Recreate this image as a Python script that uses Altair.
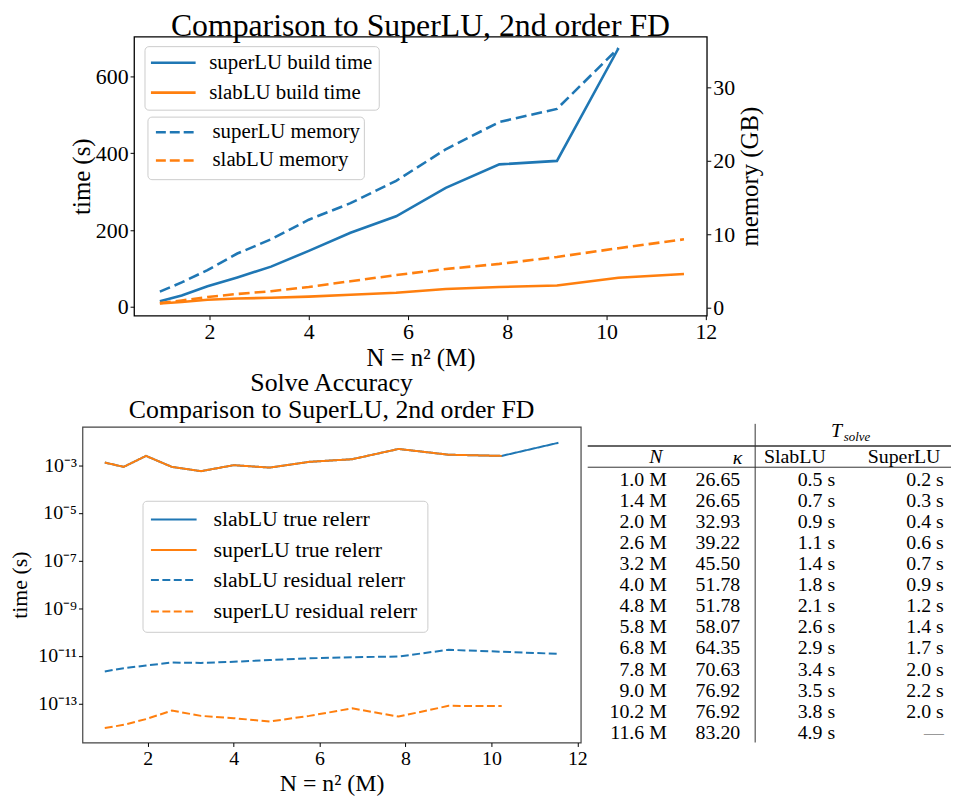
import altair as alt
import pandas as pd

# ---------------- data ----------------
N_M = [1.0, 1.44, 1.96, 2.56, 3.24, 4.0, 4.84, 5.76, 6.76, 7.84, 9.0, 10.24, 11.56]

superlu_build_s = [15, 30, 54, 77, 105, 146, 193, 236, 310, 371, 380, 673]
slablu_build_s = [9, 13, 19, 22, 24, 27, 32, 37, 47, 52, 56, 76, 86]
superlu_mem_gb = [2.23, 3.48, 5.16, 7.41, 9.34, 12.01, 14.26, 17.30, 21.59, 25.30, 27.08, 35.35]
slablu_mem_gb = [0.66, 1.02, 1.50, 1.91, 2.28, 2.86, 3.64, 4.48, 5.31, 6.00, 6.94, 8.14, 9.34]

slablu_true_relerr = [1.29e-3, 8.5e-4, 2.45e-3, 8.5e-4, 5.6e-4, 1.0e-3, 7.9e-4, 1.38e-3,
                      1.78e-3, 4.8e-3, 2.75e-3, 2.45e-3, 8.7e-3]
superlu_true_relerr = [1.29e-3, 8.5e-4, 2.45e-3, 8.5e-4, 5.6e-4, 1.0e-3, 7.9e-4, 1.38e-3,
                       1.78e-3, 4.8e-3, 2.75e-3, 2.45e-3]
slablu_resid_relerr = [2.2e-12, 3.0e-12, 3.9e-12, 5.2e-12, 5.0e-12, 5.6e-12, 6.6e-12, 7.8e-12,
                       8.7e-12, 9.3e-12, 1.78e-11, 1.48e-11, 1.2e-11]
superlu_resid_relerr = [9.3e-15, 1.26e-14, 2.2e-14, 5.0e-14, 3.0e-14, 2.4e-14, 1.74e-14, 3.0e-14,
                        6.2e-14, 2.8e-14, 7.9e-14, 7.8e-14]

top_time_names = ["superLU build time", "slabLU build time"]
top_mem_names = ["superLU memory", "slabLU memory"]
bot_names = ["slabLU true relerr", "superLU true relerr", "slabLU residual relerr",
             "superLU residual relerr"]

top_x_ticks = [2, 4, 6, 8, 10, 12]
top_time_ticks = [0, 200, 400, 600]
top_mem_ticks = [0, 10, 20, 30]
bot_y_ticks = [1e-13, 1e-11, 1e-9, 1e-7, 1e-5, 1e-3]
bot_y_labels = ["10⁻¹³", "10⁻¹¹", "10⁻⁹", "10⁻⁷", "10⁻⁵", "10⁻³"]

table_N = ["1.0 M", "1.4 M", "2.0 M", "2.6 M", "3.2 M", "4.0 M", "4.8 M", "5.8 M", "6.8 M",
           "7.8 M", "9.0 M", "10.2 M", "11.6 M"]
table_kappa = ["26.65", "26.65", "32.93", "39.22", "45.50", "51.78", "51.78", "58.07", "64.35",
               "70.63", "76.92", "76.92", "83.20"]
table_slab = ["0.5 s", "0.7 s", "0.9 s", "1.1 s", "1.4 s", "1.8 s", "2.1 s", "2.6 s", "2.9 s",
              "3.4 s", "3.5 s", "3.8 s", "4.9 s"]
table_super = ["0.2 s", "0.3 s", "0.4 s", "0.6 s", "0.7 s", "0.9 s", "1.2 s", "1.4 s", "1.7 s",
               "2.0 s", "2.2 s", "2.0 s", "—"]

BLUE = "#1f77b4"
ORANGE = "#ff7f0e"
FONT = "Liberation Serif"
one = pd.DataFrame({"a": [0]})


def series_df(x, y, name):
    return pd.DataFrame({"N": x[:len(y)], "v": y, "series": name})


def ax(title, values, lfs, tfs, **extra):
    return alt.Axis(title=title, values=values, labelFontSize=lfs, titleFontSize=tfs,
                    labelFont=FONT, titleFont=FONT, labelColor="black", titleColor="black",
                    tickColor="black", tickSize=4, labelPadding=2, domain=False, grid=False,
                    titleFontWeight="normal", labelFlush=False, **extra)


def manual_legend(box, labels, colors, dashes, ys, sx, lx, font, sw):
    """Legend drawn with marks: box=(x1,x2,y1,y2) in plot pixels."""
    x1, x2, y1, y2 = box
    layers = [alt.Chart(one).mark_rect(fill="white", fillOpacity=0.8, stroke="#cccccc",
                                       strokeWidth=1, cornerRadius=4).encode(
        x=alt.value(x1), x2=alt.value(x2), y=alt.value(y1), y2=alt.value(y2))]
    for lab, col, dash, y in zip(labels, colors, dashes, ys):
        rule_kw = dict(color=col, strokeWidth=sw)
        if dash:
            rule_kw["strokeDash"] = dash
        layers.append(alt.Chart(one).mark_rule(**rule_kw).encode(
            x=alt.value(sx[0]), x2=alt.value(sx[1]), y=alt.value(y)))
        layers.append(alt.Chart(pd.DataFrame({"t": [lab]})).mark_text(
            align="left", baseline="middle", font=FONT, fontSize=font, color="black").encode(
            text="t:N", x=alt.value(lx), y=alt.value(y)))
    return layers


# ---------------- top chart ----------------
time_df = pd.concat([series_df(N_M, superlu_build_s, top_time_names[0]),
                     series_df(N_M, slablu_build_s, top_time_names[1])])
mem_df = pd.concat([series_df(N_M, superlu_mem_gb, top_mem_names[0]),
                    series_df(N_M, slablu_mem_gb, top_mem_names[1])])

x_top = alt.X("N:Q", scale=alt.Scale(domain=[0.48, 12.02], nice=False, zero=False),
              axis=ax("N = n² (M)", top_x_ticks, 22, 25, titlePadding=3))

time_layer = alt.Chart(time_df).mark_line(strokeWidth=2.6).encode(
    x=x_top,
    y=alt.Y("v:Q", scale=alt.Scale(domain=[-22.5, 703], nice=False, zero=False),
            axis=ax("time (s)", top_time_ticks, 22, 25, orient="left", titlePadding=1)),
    color=alt.Color("series:N", scale=alt.Scale(domain=top_time_names, range=[BLUE, ORANGE]),
                    legend=None),
)
mem_layer = alt.Chart(mem_df).mark_line(strokeWidth=2.6, strokeDash=[11, 5]).encode(
    x=alt.X("N:Q"),
    y=alt.Y("v:Q", scale=alt.Scale(domain=[-1.04, 36.9], nice=False, zero=False),
            axis=ax("memory (GB)", top_mem_ticks, 22, 25, orient="right", titlePadding=3,
                    titleAngle=270, titleBaseline="top")),
    color=alt.Color("series:N", scale=alt.Scale(domain=top_mem_names, range=[BLUE, ORANGE]),
                    legend=None),
)
top_leg1 = manual_legend((11, 247, 10, 74), top_time_names, [BLUE, ORANGE], [None, None],
                         [26.3, 56.3], (17, 62), 75.7, 21, 2.6)
top_leg2 = manual_legend((14, 232, 81, 144), top_mem_names, [BLUE, ORANGE], [[10, 4], [10, 4]],
                         [96.3, 124.7], (22, 62), 79, 21, 2.6)

top = alt.layer(time_layer, mem_layer, *top_leg1, *top_leg2).resolve_scale(
    y="independent", color="independent"
).properties(
    width=577, height=281,
    title=alt.TitleParams("Comparison to SuperLU, 2nd order FD", font=FONT, fontSize=32,
                          fontWeight="normal", color="black", offset=-6),
    view=alt.ViewBackground(stroke="black", strokeWidth=1.3),
)

# ---------------- bottom chart ----------------
bot_df = pd.concat([series_df(N_M, slablu_true_relerr, bot_names[0]),
                    series_df(N_M, superlu_true_relerr, bot_names[1]),
                    series_df(N_M, slablu_resid_relerr, bot_names[2]),
                    series_df(N_M, superlu_resid_relerr, bot_names[3])])

label_expr = "".join(f"datum.value < {v * 3:g} ? '{l}' : "
                     for v, l in zip(bot_y_ticks, bot_y_labels)) + "''"

bot_colors = [BLUE, ORANGE, BLUE, ORANGE]
bot_dashes = [[1, 0], [1, 0], [8, 3.5], [8, 3.5]]
base_b = alt.Chart(bot_df).mark_line(strokeWidth=2).encode(
    x=alt.X("N:Q", scale=alt.Scale(domain=[0.48, 12.08], nice=False, zero=False),
            axis=ax("N = n² (M)", top_x_ticks, 20, 24, titlePadding=3)),
    y=alt.Y("v:Q", scale=alt.Scale(type="log", domain=[2.29e-15, 4.07e-2], nice=False),
            axis=ax("time (s)", bot_y_ticks, 20, 22, labelExpr=label_expr, titlePadding=6)),
    color=alt.Color("series:N", scale=alt.Scale(domain=bot_names, range=bot_colors),
                    legend=None),
    strokeDash=alt.StrokeDash("series:N", scale=alt.Scale(domain=bot_names, range=bot_dashes),
                              legend=None),
)
bot_leg = manual_legend((61, 348, 75, 207), bot_names, bot_colors,
                        [None, None, [8, 3.5], [8, 3.5]],
                        [93.3, 124, 154.3, 186], (69, 115), 132, 22, 2)
bottom = alt.layer(*[base_b.transform_filter(alt.datum.series == s) for s in bot_names],
                   *bot_leg).properties(
    width=502, height=318,
    title=alt.TitleParams(["Solve Accuracy", "Comparison to SuperLU, 2nd order FD"], font=FONT,
                          fontSize=26, lineHeight=27, fontWeight="normal", color="black",
                          offset=4),
    view=alt.ViewBackground(stroke="#444444", strokeWidth=1.2),
)

# ---------------- table ----------------
TW, TH = 366, 318
nrows = len(table_N)
cells = pd.DataFrame({
    "row": list(range(nrows)) * 4,
    "col": [0] * nrows + [1] * nrows + [2] * nrows + [3] * nrows,
    "text": table_N + table_kappa + table_slab + table_super,
})
xs_tab = alt.Scale(domain=[0, 1, 2, 3], range=[79.7, 153.7, 249.3, 358.7])
ys_tab = alt.Scale(domain=[-2.508, 12.456], range=[0, TH])

cell_layer = alt.Chart(cells).mark_text(align="right", baseline="middle", font=FONT,
                                         fontSize=20).encode(
    x=alt.X("col:Q", scale=xs_tab, axis=None),
    y=alt.Y("row:Q", scale=ys_tab, axis=None),
    text="text:N",
    color=alt.condition(alt.datum.text == "—", alt.value("#999999"), alt.value("black")),
)


def header(txt, x, y, size=20, style="normal", align="center", baseline="middle"):
    return alt.Chart(pd.DataFrame({"t": [txt]})).mark_text(
        align=align, baseline=baseline, font=FONT, fontSize=size, fontStyle=style,
        color="black").encode(text="t:N", x=alt.value(x), y=alt.value(y))


hdrs = [
    header("N", 68.7, 30.5, style="italic"),
    header("κ", 151, 31.5, style="italic"),
    header("SlabLU", 208.7, 30.5),
    header("SuperLU", 318.7, 30.5),
    header("T", 245, 10.7, size=20, style="italic", align="left", baseline="alphabetic"),
    header("solve", 258, 14.5, size=13, style="italic", align="left", baseline="alphabetic"),
]
rules = [
    alt.Chart(one).mark_rule(color="#333333", strokeWidth=1.6).encode(
        x=alt.value(0), x2=alt.value(TW), y=alt.value(19.3)),
    alt.Chart(one).mark_rule(color="#333333", strokeWidth=1.0).encode(
        x=alt.value(0), x2=alt.value(TW), y=alt.value(40.7)),
    alt.Chart(one).mark_rule(color="#333333", strokeWidth=1.0).encode(
        x=alt.value(168.7), y=alt.value(-3), y2=alt.value(TH)),
]
table = alt.layer(cell_layer, *hdrs, *rules).properties(
    width=TW, height=TH, view=alt.ViewBackground(stroke="transparent"))


def spacer(w):
    return alt.Chart(one).mark_point(opacity=0, size=0).encode(
        x=alt.value(0), y=alt.value(0)).properties(
        width=w, height=5, view=alt.ViewBackground(stroke="transparent"))


# flush bounds: panel plot areas are placed by their sizes and the spacing only
row1 = alt.hconcat(spacer(53), top, spacing=7, bounds="flush")
row2 = alt.hconcat(spacer(1), bottom, table, spacing=7, bounds="flush")

chart = alt.vconcat(row1, row2, spacing=393, bounds="flush").properties(
    padding={"left": 0, "top": -2, "right": 0, "bottom": 0}
).configure(font=FONT)

chart.save("out.html", embed_options={"renderer": "svg", "actions": False})
